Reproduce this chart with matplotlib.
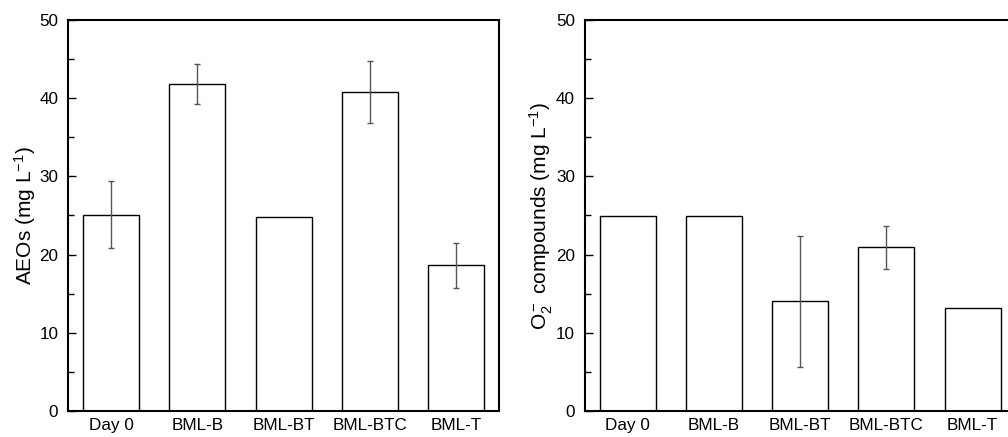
import numpy as np
import matplotlib.pyplot as plt
from matplotlib.ticker import MultipleLocator

plt.rcParams["font.family"] = ["Liberation Sans", "DejaVu Sans"]
plt.rcParams["mathtext.fontset"] = "custom"
plt.rcParams["mathtext.rm"] = "Liberation Sans"
plt.rcParams["mathtext.it"] = "Liberation Sans:italic"
plt.rcParams["mathtext.default"] = "regular"

categories = ["Day 0", "BML-B", "BML-BT", "BML-BTC", "BML-T"]

# AEOs (mg/L)
aeo_mean = [25.1, 41.8, 24.8, 40.8, 18.6]
aeo_err = [4.3, 2.55, 0.0, 4.0, 2.9]

# O2- compounds (mg/L)
o2_mean = [24.9, 24.95, 14.0, 20.9, 13.1]
o2_err = [0.0, 0.0, 8.4, 2.7, 0.0]

fig = plt.figure(figsize=(10.08, 4.37), dpi=100)
ax1 = fig.add_axes([0.0675, 0.060, 0.4276, 0.894])
ax2 = fig.add_axes([0.580, 0.060, 0.4276, 0.894])


def draw_panel(ax, means, errs, ylabel):
    x = np.arange(len(categories))
    ax.bar(x, means, width=0.65, color="white", edgecolor="black", linewidth=1.0, zorder=2)
    for xi, m, e in zip(x, means, errs):
        if e > 0:
            ax.errorbar(xi, m, yerr=e, fmt="none", ecolor="#555555",
                        elinewidth=1.0, capsize=2.5, capthick=1.0, zorder=3)
    ax.set_xlim(-0.5, len(categories) - 0.5)
    ax.set_ylim(0, 50)
    ax.set_xticks(x)
    ax.set_xticklabels(categories, fontsize=12.3)
    ax.tick_params(axis="x", length=0, pad=5)
    ax.yaxis.set_major_locator(MultipleLocator(10))
    ax.yaxis.set_minor_locator(MultipleLocator(5))
    ax.tick_params(axis="y", which="major", direction="in", length=6, width=1.0,
                   labelsize=12.3, pad=7, right=False)
    ax.tick_params(axis="y", which="minor", direction="in", length=4, width=1.0, right=False)
    for s in ax.spines.values():
        s.set_linewidth(1.5)
    ax.set_ylabel(ylabel, fontsize=15, labelpad=1)


draw_panel(ax1, aeo_mean, aeo_err, "AEOs (mg L$^{-1}$)")
draw_panel(ax2, o2_mean, o2_err, "O$_2^-$ compounds (mg L$^{-1}$)")

fig.savefig("out.png", dpi=100)
